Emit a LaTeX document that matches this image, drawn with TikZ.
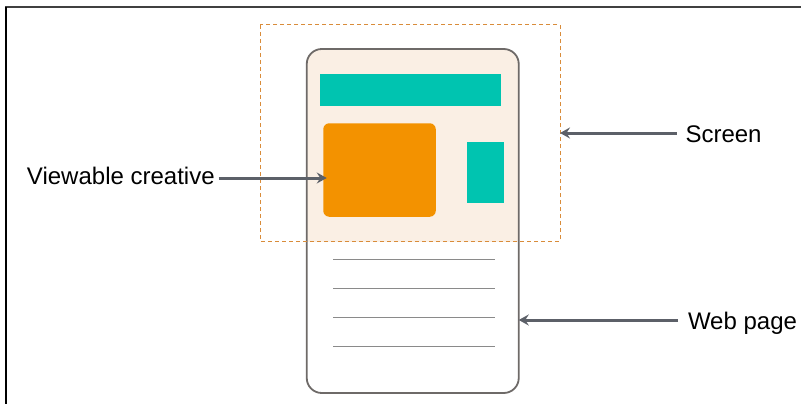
\documentclass[tikz,border=0pt]{standalone}
\usepackage{fontspec}
\setmainfont{Liberation Sans}
\usetikzlibrary{arrows.meta}
\definecolor{dashor}{HTML}{D98C3A}
\definecolor{beige}{HTML}{FAEFE4}
\definecolor{phonegray}{HTML}{6E6A68}
\definecolor{teal}{HTML}{00C4B0}
\definecolor{creativeor}{HTML}{F39200}
\definecolor{linegray}{HTML}{8A8A8A}
\definecolor{arrgray}{HTML}{5C6068}
\tikzset{
  box/.style={inner sep=0pt, outer sep=0pt},
  lbl/.style={inner sep=0pt, outer sep=0pt, anchor=base west, font=\fontsize{24}{28}\selectfont},
  arr/.style={draw=arrgray, line width=3pt, -{Stealth[length=10pt,width=11pt,inset=3.5pt]}},
  textline/.style={draw=linegray, line width=1pt},
}
\begin{document}
\begin{tikzpicture}[x=1pt,y=-1pt]
\useasboundingbox (0,0) rectangle (801,404);
% frame
\draw[draw=black!75, line width=1.2pt] (5,7) -- (801,7);
\draw[draw=black, line width=2.2pt] (6,7) -- (6,404);
% screen & phone shapes
\node[box, minimum width=300pt, minimum height=216pt] (screen) at (410,133) {};
\node[box, minimum width=212pt, minimum height=344pt] (phone) at (412.75,221) {};
\begin{scope}
  \clip (screen.north west) rectangle (screen.south east);
  \fill[beige, rounded corners=15pt] (phone.north west) rectangle (phone.south east);
\end{scope}
\draw[phonegray, line width=1.8pt, rounded corners=15pt] (phone.north west) rectangle (phone.south east);
\draw[dashor, line width=1pt, dash pattern=on 4pt off 3pt] (screen.north west) rectangle (screen.south east);
% contents
\node[box, fill=teal, minimum width=181pt, minimum height=31pt] (banner) at (410.5,90) {};
\node[box, fill=creativeor, rounded corners=6pt, minimum width=112.5pt, minimum height=93.5pt] (creative) at (379.5,170) {};
\node[box, fill=teal, minimum width=37.5pt, minimum height=61pt] (side) at (485.5,172.5) {};
\coordinate (l1a) at (333,259); \coordinate (l1b) at (495,259);
\coordinate (l2a) at (333,288); \coordinate (l2b) at (495,288);
\coordinate (l3a) at (333,317); \coordinate (l3b) at (495,317);
\coordinate (l4a) at (333,346); \coordinate (l4b) at (495,346);
\draw[textline] (l1a) -- (l1b);
\draw[textline] (l2a) -- (l2b);
\draw[textline] (l3a) -- (l3b);
\draw[textline] (l4a) -- (l4b);
% labels
\node[lbl] (screenlbl) at (685.5,142.5) {Screen};
\node[lbl] (viewlbl) at (27,184.5) {Viewable creative};
\node[lbl] (weblbl) at (688,329.5) {Web page};
% arrows
\draw[arr] ([xshift=-9pt]screenlbl.west |- 0,133) -- (screen.east);
\draw[arr] ([xshift=4pt]viewlbl.east |- 0,178) -- ([xshift=3.5pt]creative.west |- 0,178);
\draw[arr] ([xshift=-10pt]weblbl.west |- 0,320) -- (phone.east |- 0,320);
\end{tikzpicture}
\end{document}
